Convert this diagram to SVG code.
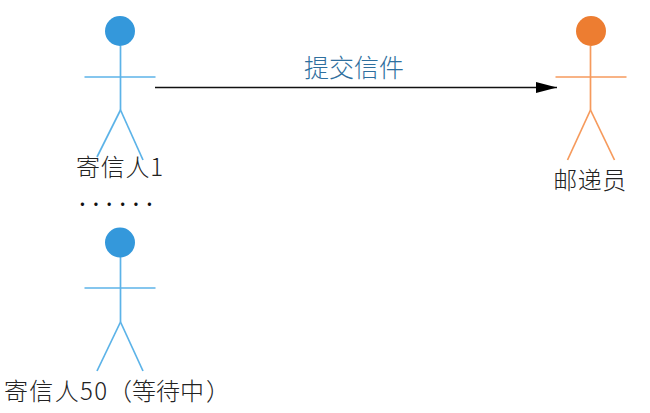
<svg xmlns="http://www.w3.org/2000/svg" width="650" height="413" viewBox="0 0 650 413">
<style>
text{font-family:"Noto Sans CJK SC","Liberation Sans",sans-serif;font-size:24px;font-weight:300;fill:#222}
.mid{text-anchor:middle}
.blue line{stroke:#5cb3e8;stroke-width:1.7;fill:none}
.orange line{stroke:#f69a5c;stroke-width:1.7;fill:none}
.blue circle{fill:#3498db}
.orange circle{fill:#ed7d31}
</style>
<defs>
<marker id="arrow" markerUnits="userSpaceOnUse" markerWidth="22" markerHeight="14" refX="21" refY="7" orient="auto"><path d="M0 1.500L21 7L0 12.500Z" fill="#000"/></marker>
</defs>
<g id="connectors">
<line x1="155" y1="87.500" x2="557" y2="87.500" stroke="#111" stroke-width="1.500" marker-end="url(#arrow)"/>
</g>
<g id="sender1" class="blue">
<line x1="120.500" y1="46" x2="120.500" y2="110"/>
<line x1="84.500" y1="77" x2="155.500" y2="77"/>
<line x1="120.500" y1="110" x2="97" y2="157"/>
<line x1="120.500" y1="110" x2="143" y2="160"/>
<circle cx="120" cy="31" r="15"/>
</g>
<g id="sender50" class="blue">
<line x1="120.500" y1="257" x2="120.500" y2="322"/>
<line x1="84.500" y1="288" x2="155.500" y2="288"/>
<line x1="120.500" y1="322" x2="97" y2="371"/>
<line x1="120.500" y1="322" x2="143" y2="371"/>
<circle cx="120" cy="242.500" r="15"/>
</g>
<g id="postman" class="orange">
<line x1="590.500" y1="46" x2="590.500" y2="110"/>
<line x1="555.500" y1="77" x2="626.500" y2="77"/>
<line x1="590.500" y1="110" x2="567.500" y2="160"/>
<line x1="590.500" y1="110" x2="614.500" y2="160"/>
<circle cx="591" cy="31" r="15"/>
</g>
<text x="76" y="176" textLength="87" lengthAdjust="spacing">寄信人1</text>
<text x="79.500" y="206" style="font-size:18px;letter-spacing:7.550px;font-weight:700;fill:#111">......</text>
<text y="400"><tspan x="4" textLength="103" lengthAdjust="spacing">寄信人50</tspan><tspan x="108">（</tspan><tspan x="132">等待中</tspan><tspan x="206">）</tspan></text>
<text x="590" y="189" class="mid" style="letter-spacing:.5px">邮递员</text>
<text x="354" y="77" class="mid" style="fill:#2e6f9e;font-size:25px">提交信件</text>
</svg>
